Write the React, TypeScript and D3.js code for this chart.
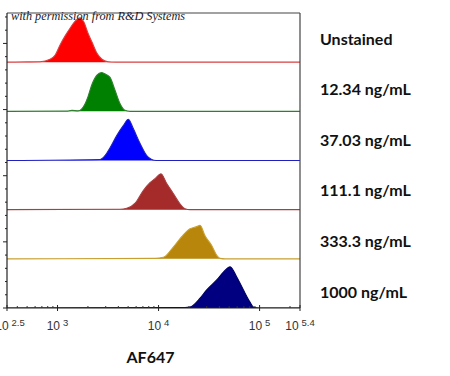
import React from "react";
import * as d3 from "d3";

const W = 450;
const H = 376;

const seriesNames = ["Unstained", "12.34 ng/mL", "37.03 ng/mL", "111.1 ng/mL", "333.3 ng/mL", "1000 ng/mL"];
const seriesFill = ["#ff0000", "#008000", "#0000ff", "#a52a2a", "#b8860b", "#000080"];
const seriesLine = ["#d84040", "#2f7f2f", "#2020c0", "#a84040", "#c8a030", "#000060"];

// [log10 intensity, relative count %]
const unstained: [number, number][] = [
  [2.5, 0], [2.7, 0.5], [2.827, 1], [2.926, 6], [2.975, 14], [3.025, 35], [3.074, 53], [3.124, 69],
  [3.173, 83], [3.223, 90], [3.262, 81], [3.302, 59], [3.341, 41], [3.391, 18], [3.44, 6], [3.5, 1], [3.569, 0], [5.4, 0],
];
const s1234: [number, number][] = [
  [2.5, 0], [3.1, 0.5], [3.143, 2], [3.203, 1], [3.272, 15], [3.302, 30], [3.338, 53], [3.388, 73],
  [3.437, 79], [3.48, 75], [3.52, 69], [3.569, 43], [3.618, 16], [3.668, 2], [3.717, 0], [5.4, 0],
];
const s3703: [number, number][] = [
  [2.5, 0], [3.42, 2], [3.47, 10], [3.52, 26], [3.586, 51], [3.651, 71], [3.701, 84], [3.75, 65],
  [3.816, 35], [3.883, 10], [3.932, 2], [3.975, 0], [5.4, 0],
];
const s1111: [number, number][] = [
  [2.5, 0], [3.618, 1], [3.685, 3], [3.771, 14], [3.849, 39], [3.915, 55], [3.965, 63], [4.024, 73],
  [4.081, 53], [4.146, 33], [4.212, 12], [4.262, 2], [4.311, 0], [5.4, 0],
];
const s3333: [number, number][] = [
  [2.5, 0], [3.965, 1], [4.047, 3], [4.146, 24], [4.229, 45], [4.311, 61], [4.371, 65], [4.411, 68],
  [4.46, 47], [4.526, 27], [4.576, 7], [4.608, 1], [4.658, 0], [5.4, 0],
];
const s1000: [number, number][] = [
  [2.5, 0], [4.262, 1], [4.311, 2], [4.411, 20], [4.477, 37], [4.576, 57], [4.642, 73], [4.708, 84],
  [4.774, 63], [4.839, 37], [4.905, 12], [4.938, 2], [4.985, 0], [5.4, 0],
];
const seriesData = [unstained, s1234, s3703, s1111, s3333, s1000];

const xTickExps = [2.5, 3, 4, 5, 5.4];
const xTickLabels = ["2.5", "3", "4", "5", "5.4"];
const minorMultipliers = [2, 3, 4, 5, 6, 7, 8, 9];
const minorDecades = [2, 3, 4, 5];

const yTickDomainMax = 22.3;

const plot = { left: 7, right: 300, top: 13, bottom: 308 };

export default function App() {
  const x = d3.scaleLinear().domain([2.5, 5.4]).range([plot.left, plot.right]);
  const band = d3.scaleBand<string>().domain(seriesNames).range([plot.top, plot.bottom]).paddingInner(0).paddingOuter(0);
  const labelScale = d3.scalePoint<string>().domain(seriesNames).range([44.5, 297.5]);
  const yAxis = d3.scaleLinear().domain([0, yTickDomainMax]).range([plot.bottom, plot.top]);
  const yTicks = d3.range(0, Math.floor(yTickDomainMax) + 1);

  const minorTicks: number[] = [];
  minorDecades.forEach((dec) => {
    minorMultipliers.forEach((m) => {
      const v = Math.log10(m * Math.pow(10, dec));
      if (v > 2.5 && v < 5.4) minorTicks.push(v);
    });
  });

  return (
    <svg width={W} height={H} style={{ position: "absolute", left: 0, top: 0, background: "#fff" }}>
      <defs>
        <clipPath id="plotClip">
          <rect x={plot.left} y={plot.top} width={plot.right - plot.left} height={plot.bottom - plot.top} />
        </clipPath>
      </defs>
      <g clipPath="url(#plotClip)">
        {seriesNames.map((name, i) => {
          const y0 = (band(name) as number) + band.bandwidth();
          const y = d3.scaleLinear().domain([0, 100]).range([y0, y0 - band.bandwidth()]);
          const area = d3
            .area<[number, number]>()
            .x((d) => x(d[0]))
            .y0(y0)
            .y1((d) => y(d[1]))
            .curve(d3.curveMonotoneX);
          const line = d3
            .line<[number, number]>()
            .x((d) => x(d[0]))
            .y((d) => y(d[1]))
            .curve(d3.curveMonotoneX);
          return (
            <g key={name}>
              <path d={area(seriesData[i]) || ""} fill={seriesFill[i]} />
              <path d={line(seriesData[i]) || ""} fill="none" stroke={seriesLine[i]} strokeWidth={1.1} />
            </g>
          );
        })}
      </g>

      {/* frame */}
      <line x1={plot.left} x2={plot.right} y1={plot.top} y2={plot.top} stroke="#444" strokeWidth={1.2} />
      <line x1={plot.right} x2={plot.right} y1={plot.top} y2={plot.bottom} stroke="#444" strokeWidth={1.2} />
      <line x1={plot.left} x2={plot.left} y1={plot.top} y2={plot.bottom} stroke="#222" strokeWidth={1.2} />
      <line x1={plot.left} x2={plot.right} y1={plot.bottom} y2={plot.bottom} stroke="#222" strokeWidth={1.2} />

      {/* y ticks */}
      {yTicks.map((t) => (
        <line
          key={"yt" + t}
          x1={t % 5 === 0 ? plot.left - 4 : plot.left - 2}
          x2={plot.left}
          y1={yAxis(t)}
          y2={yAxis(t)}
          stroke="#222"
          strokeWidth={1}
        />
      ))}

      {/* x ticks */}
      {minorTicks.map((t, i) => (
        <line key={"xm" + i} x1={x(t)} x2={x(t)} y1={plot.bottom} y2={plot.bottom - 2} stroke="#333" strokeWidth={1} />
      ))}
      {xTickExps.map((t) => (
        <line key={"xM" + t} x1={x(t)} x2={x(t)} y1={plot.bottom - 3} y2={plot.bottom + 3} stroke="#222" strokeWidth={1} />
      ))}
      {xTickExps.map((t, i) => (
        <text
          key={"xl" + t}
          x={x(t)}
          y={330}
          dx={i === 0 ? 3 : 0}
          textAnchor="middle"
          fontFamily="'Liberation Sans', Arial, sans-serif"
          fontSize={12}
          fill="#333"
        >
          10
          <tspan dx={3} dy={-4.5} fontSize={9.5}>
            {xTickLabels[i]}
          </tspan>
        </text>
      ))}

      {/* x title */}
      <text x={150.5} y={362.5} textAnchor="middle" fontFamily="Lato, 'Open Sans', sans-serif" fontWeight="bold" fontSize={16} fill="#111">
        AF647
      </text>

      {/* series labels */}
      {seriesNames.map((name) => (
        <text key={"lab" + name} x={320} y={labelScale(name) as number} fontFamily="Lato, 'Open Sans', sans-serif" fontWeight="bold" fontSize={16} fill="#111">
          {name}
        </text>
      ))}

      {/* watermark */}
      <text
        x={11}
        y={20}
        fontFamily="'Liberation Serif', 'DejaVu Serif', serif"
        fontStyle="italic"
        fontSize={13}
        fill="#1a1a2a"
        textLength={174}
        lengthAdjust="spacingAndGlyphs"
      >
        with permission from R&amp;D Systems
      </text>
    </svg>
  );
}
